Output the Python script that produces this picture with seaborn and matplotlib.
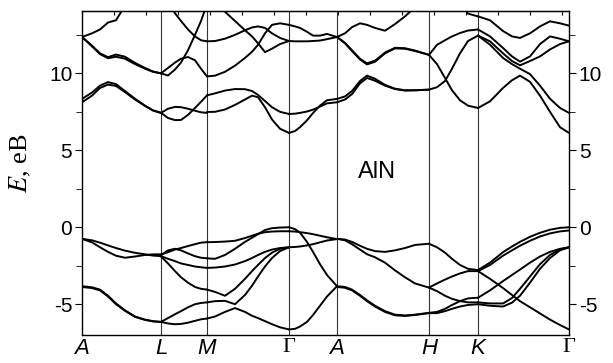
import numpy as np
import pandas as pd
import matplotlib
matplotlib.use('Agg')
import matplotlib.pyplot as plt
import seaborn as sns

nan = np.nan

# high-symmetry points along the k-path
kpoint_pos = [0, 79, 125, 207, 255, 347, 396, 487]
kpoint_labels = ['A', 'L', 'M', 'Γ', 'A', 'H', 'K', 'Γ']

# --- A -> L ---
k_AL = [0, 10, 18, 26, 34, 43, 53, 63, 71, 79]
bands_AL = [
    [12.36, 12.6, 12.85, 13.3, 13.45, 14.4, nan, nan, nan, nan],
    [12.36, 11.75, 11.25, 10.98, 11.08, 10.95, 10.6, 10.3, 10.1, 10.0],
    [12.36, 11.8, 11.3, 11.05, 11.22, 11.08, 10.68, 10.35, 10.12, 10.0],
    [8.34, 8.75, 9.2, 9.43, 9.3, 8.85, 8.35, 7.9, 7.6, 7.43],
    [8.12, 8.55, 9.05, 9.27, 9.18, 8.78, 8.3, 7.88, 7.58, 7.43],
    [-0.75, -0.98, -1.3, -1.6, -1.85, -1.98, -1.9, -1.8, -1.76, -1.76],
    [-0.75, -0.85, -1.0, -1.18, -1.35, -1.52, -1.66, -1.76, -1.84, -1.88],
    [-3.83, -3.9, -4.05, -4.45, -4.95, -5.4, -5.8, -6.0, -6.1, -6.15],
    [-3.88, -3.95, -4.1, -4.5, -5.0, -5.43, -5.82, -6.02, -6.12, -6.15],
]

# --- L -> M ---
k_LM = [79, 86, 93, 99, 106, 113, 119, 125]
bands_LM = [
    [10.0, 9.86, 10.25, 10.7, 11.5, 12.5, 13.4, 14.5],
    [10.0, 10.35, 10.7, 10.95, 11.06, 10.85, 10.3, 9.8],
    [nan, 14.7, 13.9, 13.4, 12.85, 12.4, 12.15, 12.08],
    [7.43, 7.7, 7.82, 7.8, 7.7, 7.57, 7.47, 7.43],
    [7.43, 7.1, 6.96, 6.97, 7.3, 7.75, 8.15, 8.57],
    [-1.76, -1.62, -1.45, -1.35, -1.22, -1.1, -1.0, -0.97],
    [-1.82, -1.5, -1.4, -1.5, -1.7, -1.88, -1.98, -2.02],
    [-1.88, -2.05, -2.2, -2.35, -2.45, -2.55, -2.6, -2.64],
    [-1.9, -2.35, -2.85, -3.25, -3.6, -3.88, -4.0, -4.05],
    [-6.15, -5.9, -5.65, -5.45, -5.2, -5.0, -4.92, -4.88],
    [-6.15, -6.25, -6.3, -6.28, -6.2, -6.08, -5.98, -5.93],
]

# --- M -> Gamma ---
k_MG = [125, 133, 143, 153, 163, 170, 176, 183, 190, 198, 207]
bands_MG = [
    [nan, 15.0, 14.0, 13.4, 12.8, 12.4, 11.95, 11.38, 11.6, 11.9, 12.1],
    [12.08, 12.1, 12.25, 12.5, 12.8, 12.98, 13.05, 12.95, 12.6, 12.3, 12.1],
    [9.8, 9.85, 10.1, 10.5, 11.0, 11.4, 11.85, 12.6, 13.15, 13.25, 13.15],
    [8.57, 8.7, 8.88, 8.98, 8.97, 8.85, 8.6, 8.2, 7.8, 7.5, 7.36],
    [7.49, 7.5, 7.65, 7.95, 8.3, 8.55, 8.45, 7.8, 7.0, 6.4, 6.13],
    [-0.97, -0.96, -0.93, -0.88, -0.7, -0.55, -0.42, -0.32, -0.28, -0.26, -0.26],
    [-2.02, -2.05, -1.8, -1.4, -0.95, -0.68, -0.45, -0.18, -0.06, -0.02, 0.0],
    [-2.64, -2.62, -2.55, -2.42, -2.2, -2.0, -1.8, -1.6, -1.45, -1.35, -1.3],
    [-4.05, -4.2, -4.45, -4.0, -3.35, -2.85, -2.45, -2.0, -1.65, -1.4, -1.3],
    [-4.88, -4.8, -4.78, -5.0, -4.4, -3.8, -3.2, -2.55, -2.0, -1.55, -1.3],
    [-5.93, -5.8, -5.5, -5.25, -5.5, -5.75, -5.9, -6.1, -6.3, -6.5, -6.64],
]

# --- Gamma -> A ---
k_GA = [207, 213, 218, 225, 231, 238, 245, 255]
bands_GA = [
    [13.15, 13.05, 12.95, 12.7, 12.45, 12.45, 12.56, 12.36],
    [12.1, 12.08, 12.08, 12.08, 12.1, 12.13, 12.22, 12.36],
    [7.36, 7.38, 7.43, 7.52, 7.64, 7.84, 8.05, 8.12],
    [6.13, 6.25, 6.5, 6.95, 7.42, 7.9, 8.25, 8.34],
    [-0.26, -0.28, -0.32, -0.38, -0.45, -0.55, -0.65, -0.77],
    [-1.3, -1.28, -1.25, -1.18, -1.1, -0.98, -0.86, -0.77],
    [0.0, -0.12, -0.35, -0.95, -1.6, -2.4, -3.1, -3.83],
    [-6.64, -6.6, -6.45, -6.15, -5.7, -5.1, -4.5, -3.83],
]

# --- A -> H ---
k_AH = [255, 263, 270, 278, 285, 293, 303, 313, 323, 333, 347]
bands_AH = [
    [12.36, 12.6, 13.0, 13.25, 13.15, 12.95, 12.77, 13.2, 13.7, 14.3, nan],
    [12.36, 11.95, 11.45, 10.9, 10.58, 10.75, 11.3, 11.62, 11.6, 11.45, 11.2],
    [12.36, 11.98, 11.5, 10.95, 10.65, 10.82, 11.35, 11.66, 11.63, 11.48, 11.2],
    [8.34, 8.5, 8.85, 9.5, 9.85, 9.65, 9.25, 9.0, 8.9, 8.9, 8.94],
    [8.12, 8.3, 8.65, 9.35, 9.7, 9.52, 9.2, 8.98, 8.88, 8.9, 8.94],
    [-0.75, -0.8, -0.95, -1.2, -1.4, -1.55, -1.6, -1.5, -1.35, -1.15, -1.07],
    [-0.75, -0.85, -1.1, -1.45, -1.75, -1.95, -2.3, -2.8, -3.25, -3.65, -3.92],
    [-3.83, -3.88, -4.05, -4.4, -4.75, -5.1, -5.45, -5.68, -5.73, -5.68, -5.56],
    [-3.88, -3.93, -4.1, -4.45, -4.8, -5.15, -5.5, -5.72, -5.76, -5.7, -5.58],
]

# --- H -> K ---
k_HK = [347, 355, 363, 370, 378, 386, 396]
bands_HK = [
    [nan, nan, nan, nan, 14.6, 13.88, 13.7],
    [11.2, 11.85, 12.15, 12.4, 12.62, 12.78, 12.85],
    [8.94, 9.1, 9.5, 10.3, 11.3, 12.1, 12.45],
    [11.2, 10.6, 9.7, 8.9, 8.25, 7.9, 7.75],
    [-1.07, -1.3, -1.65, -2.05, -2.45, -2.7, -2.78],
    [-3.92, -3.65, -3.4, -3.2, -3.0, -2.85, -2.85],
    [-3.92, -4.15, -4.45, -4.65, -4.8, -4.88, -4.88],
    [-5.56, -5.5, -5.3, -5.05, -4.8, -4.62, -4.58],
    [-5.58, -5.58, -5.45, -5.3, -5.15, -5.05, -5.0],
]

# --- K -> Gamma ---
k_KG = [396, 408, 421, 430, 438, 448, 458, 468, 478, 487]
bands_KG = [
    [13.7, 13.45, 12.75, 12.4, 12.3, 12.6, 13.05, 13.38, 13.25, 13.1],
    [12.85, 12.4, 11.65, 11.1, 10.76, 11.1, 11.9, 12.4, 12.25, 12.08],
    [12.45, 12.08, 11.3, 10.8, 10.52, 10.8, 11.1, 11.55, 11.9, 12.08],
    [12.45, 11.86, 11.0, 10.6, 10.3, 9.95, 9.2, 8.35, 7.75, 7.43],
    [7.75, 8.18, 9.05, 9.55, 9.85, 9.45, 8.55, 7.5, 6.5, 6.13],
    [-2.78, -2.3, -1.62, -1.25, -0.95, -0.62, -0.36, -0.16, -0.04, 0.0],
    [-2.85, -2.45, -1.85, -1.5, -1.2, -0.88, -0.6, -0.4, -0.27, -0.21],
    [-2.85, -3.35, -3.95, -4.4, -4.8, -5.2, -5.6, -6.0, -6.35, -6.64],
    [-4.58, -4.1, -3.5, -3.1, -2.75, -2.3, -1.9, -1.6, -1.4, -1.3],
    [-4.88, -4.95, -4.95, -4.6, -4.0, -3.2, -2.4, -1.8, -1.45, -1.3],
    [-5.0, -5.1, -5.15, -4.9, -4.45, -3.6, -2.7, -2.0, -1.5, -1.3],
]

segments = [(k_AL, bands_AL), (k_LM, bands_LM), (k_MG, bands_MG), (k_GA, bands_GA),
            (k_AH, bands_AH), (k_HK, bands_HK), (k_KG, bands_KG)]

# long-form table: one row per point, one unit per curve piece
rows = []
for s, (k, bands) in enumerate(segments):
    for b, energies in enumerate(bands):
        for kk, ee in zip(k, energies):
            if not np.isnan(ee):
                rows.append((kk, ee, f'{s}-{b}'))
df = pd.DataFrame(rows, columns=['k', 'E', 'curve'])

sns.set_style('ticks')
plt.rcParams['font.family'] = ['Liberation Sans', 'DejaVu Sans']
plt.rcParams['mathtext.fontset'] = 'stix'
plt.rcParams['axes.unicode_minus'] = False
for key in ['text.color', 'axes.labelcolor', 'xtick.color', 'ytick.color', 'axes.edgecolor']:
    plt.rcParams[key] = 'black'

fig = plt.figure(figsize=(6.13, 3.63), dpi=100)
ax = fig.add_axes([82 / 613, 28 / 363, 487 / 613, 324 / 363])

for x in kpoint_pos[1:-1]:
    ax.axvline(x, color='#333333', lw=0.8, zorder=1)

sns.lineplot(data=df, x='k', y='E', units='curve', estimator=None, sort=False,
             color='black', lw=1.4, legend=False, ax=ax)

ax.set_xlim(0, 487)
ax.set_ylim(-7, 14.05)

ax.set_xticks(kpoint_pos, kpoint_labels)
ax.tick_params(axis='x', length=0, pad=2, labelsize=16)
for lab in ax.get_xticklabels():
    if lab.get_text() == 'Γ':
        lab.set_fontfamily('Liberation Serif')
    else:
        lab.set_fontstyle('italic')

ax.set_yticks([-5, 0, 5, 10])
ax.set_yticks([-2.5, 2.5, 7.5, 12.5], minor=True)
ax.tick_params(axis='y', which='both', left=True, right=True,
               labelleft=True, labelright=True, direction='out', labelsize=15)
ax.tick_params(axis='y', which='major', length=5, pad=2)
ax.tick_params(axis='y', which='minor', length=4)

top = ax.secondary_xaxis('top')
top.set_xticks(np.arange(32, 487, 32))
top.tick_params(direction='in', length=3, labeltop=False)

ax.set_xlabel('')
ax.set_ylabel(r'$E$, eB', family='Liberation Serif', fontsize=19)
ax.yaxis.set_label_coords(-0.10, 0.53)

ax.text(295, 3.6, 'AlN', fontsize=17, ha='center', va='center')

for sp in ax.spines.values():
    sp.set_linewidth(1.0)

fig.savefig('out.png', dpi=100)
